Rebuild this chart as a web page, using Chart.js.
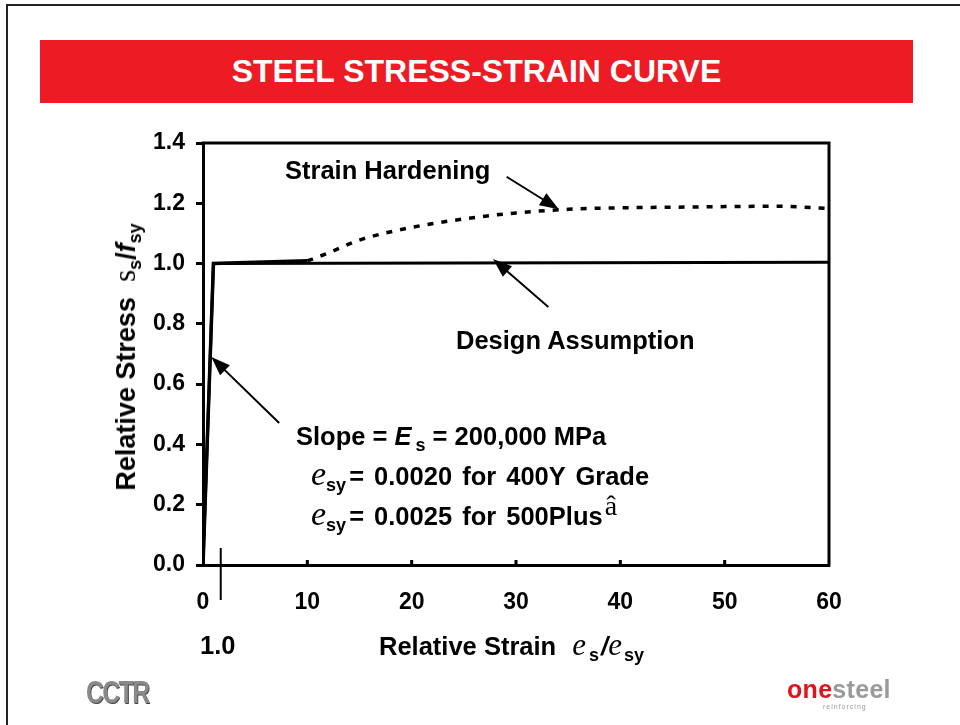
<!DOCTYPE html>
<html>
<head>
<meta charset="utf-8">
<script src="https://cdn.jsdelivr.net/npm/chart.js@4.4.0/dist/chart.umd.min.js"></script>
<style>
  html,body{margin:0;padding:0;background:#fff;}
  body{width:960px;height:725px;position:relative;overflow:hidden;font-family:"Liberation Sans",Arial,sans-serif;}
  #c{position:absolute;left:0;top:0;}
  .slide{position:absolute;left:6px;top:4px;width:960px;height:730px;border-left:2px solid #222;border-top:2px solid #222;box-sizing:border-box;}
  .titlebar{position:absolute;left:40px;top:40px;width:873px;height:63px;background:#ED1C24;color:#fff;font-weight:bold;font-size:32px;line-height:63px;text-align:center;}
  .t{position:absolute;white-space:nowrap;font-weight:bold;color:#000;font-size:25.5px;line-height:26px;}
  .ser{font-family:"Liberation Serif","Times New Roman",serif;font-style:italic;font-weight:normal;font-size:34px;}
  .sub{font-size:18px;position:relative;top:6px;}
  .ytitle{position:absolute;left:127px;top:357px;transform:translate(-50%,-50%) rotate(-90deg);white-space:nowrap;font-weight:bold;font-size:27px;line-height:30px;}
  .logo1{position:absolute;left:86px;top:675px;font-family:"Liberation Sans Narrow","Liberation Sans",sans-serif;font-weight:bold;font-size:31px;color:#8a8a8a;letter-spacing:-2px;text-shadow:1px 1px 0 #444;transform:scaleX(0.8);transform-origin:left top;}
  .logo2{position:absolute;left:787px;top:676px;font-family:"Liberation Sans",sans-serif;font-weight:bold;font-size:25px;line-height:26px;letter-spacing:0.3px;}
  .logo2 .a{color:#E0141E;}
  .logo2 .b{color:#9a9a9a;}
  .logo2 .r{position:absolute;left:36px;top:27px;font-size:7px;line-height:7px;color:#999;font-weight:normal;letter-spacing:1px;}
</style>
</head>
<body>
<div class="slide"></div>
<canvas id="c" width="960" height="725"></canvas>
<div class="titlebar">STEEL STRESS-STRAIN CURVE</div>

<div class="t" style="left:285px;top:157px;">Strain Hardening</div>
<div class="t" style="left:456px;top:327px;">Design Assumption</div>
<div class="t" style="left:296px;top:423px;">Slope = <i>E</i><span class="sub" style="margin-left:4px;">s</span> = 200,000 MPa</div>
<div class="t" style="left:311px;top:461px;word-spacing:3px;"><span class="ser">e</span><span class="sub">sy</span><span style="margin-left:3px;">= 0.0020 for 400Y Grade</span></div>
<div class="t" style="left:311px;top:501px;word-spacing:3px;"><span class="ser">e</span><span class="sub">sy</span><span style="margin-left:3px;">= 0.0025 for 500Plus</span><span style="font-family:'Liberation Serif',serif;font-weight:normal;font-size:28px;position:relative;top:-10px;margin-left:2px;">â</span></div>

<div class="ytitle">Relative Stress&nbsp; <span style="font-family:'Liberation Serif',serif;font-weight:normal;font-size:31px;">s</span><span class="sub">s</span>/<i>f</i><span class="sub">sy</span></div>
<div class="t" style="left:379px;top:632px;">Relative Strain&nbsp;&nbsp;<span class="ser" style="font-size:31px;margin-left:2px;">e</span><span class="sub" style="margin-left:3px;">s</span><i style="margin-left:2px;">/</i><span class="ser" style="font-size:31px;">e</span><span class="sub" style="margin-left:2px;">sy</span></div>
<div class="t" style="left:200px;top:632px;">1.0</div>

<div class="logo1">CCTR</div>
<div class="logo2"><span class="a">one</span><span class="b">steel</span><span class="r">reinforcing</span></div>

<script>
// ---- data ----
const strainTicks = [0, 10, 20, 30, 40, 50, 60];
const stressTicks = [0, 0.2, 0.4, 0.6, 0.8, 1.0, 1.2, 1.4];
const elasticStrain = [0, 1, 10];
const elasticStress = [0, 1.0, 1.009];
const hardeningStrain = [10, 12, 15, 20, 25, 30, 35, 40, 45, 50, 55, 60];
const hardeningStress = [1.009, 1.035, 1.078, 1.12, 1.148, 1.168, 1.18, 1.185, 1.187, 1.189, 1.19, 1.183];
const designStrain = [0, 1, 60];
const designStress = [0, 1.0, 1.004];
const markerStrain = [1.7];
// annotation arrows [tailStrain, tailStress, tipStrain, tipStress]
const hardeningArrow = [29.1, 1.288, 34.1, 1.18];
const designArrow = [33.1, 0.856, 27.8, 1.015];
const slopeArrow = [7.3, 0.471, 0.8, 0.69];

const pts = (xs, ys) => xs.map((v, i) => ({x: v, y: ys[i]}));

function drawArrow(ctx, x1, y1, x2, y2) {
  const a = Math.atan2(y2 - y1, x2 - x1);
  const L = 19, W = 7;
  const c = Math.cos(a), s = Math.sin(a);
  ctx.lineWidth = 2;
  ctx.beginPath();
  ctx.moveTo(x1, y1);
  ctx.lineTo(x2 - L * 0.8 * c, y2 - L * 0.8 * s);
  ctx.stroke();
  ctx.beginPath();
  ctx.moveTo(x2, y2);
  ctx.lineTo(x2 - L * c + W * s, y2 - L * s - W * c);
  ctx.lineTo(x2 - L * c - W * s, y2 - L * s + W * c);
  ctx.closePath();
  ctx.fill();
}

const framePlugin = {
  id: 'frame',
  afterDatasetsDraw(chart) {
    const {ctx, chartArea: ar, scales: {x, y}} = chart;
    ctx.save();
    ctx.strokeStyle = '#000';
    ctx.fillStyle = '#000';
    ctx.lineWidth = 3;
    ctx.lineCap = 'square';
    ctx.beginPath();
    ctx.moveTo(ar.left, ar.top);
    ctx.lineTo(ar.right, ar.top);
    ctx.lineTo(ar.right, ar.bottom);
    ctx.stroke();
    ctx.lineCap = 'butt';
    strainTicks.slice(1, -1).forEach(v => {
      const px = x.getPixelForValue(v);
      ctx.beginPath();
      ctx.moveTo(px, ar.bottom);
      ctx.lineTo(px, ar.bottom - 5);
      ctx.stroke();
    });
    ctx.lineWidth = 2;
    const mx = x.getPixelForValue(markerStrain[0]);
    ctx.beginPath();
    ctx.moveTo(mx, ar.bottom - 17);
    ctx.lineTo(mx, ar.bottom + 35);
    ctx.stroke();
    [hardeningArrow, designArrow, slopeArrow].forEach(a => {
      drawArrow(ctx, x.getPixelForValue(a[0]), y.getPixelForValue(a[1]),
                     x.getPixelForValue(a[2]), y.getPixelForValue(a[3]));
    });
    ctx.restore();
  }
};

new Chart(document.getElementById('c'), {
  type: 'line',
  data: {
    datasets: [
      {label: 'Design assumption', data: pts(designStrain, designStress), borderColor: '#000', borderWidth: 3, pointRadius: 0, tension: 0, fill: false},
      {label: 'Elastic / yield plateau', data: pts(elasticStrain, elasticStress), borderColor: '#000', borderWidth: 3.5, pointRadius: 0, tension: 0, fill: false},
      {label: 'Strain hardening', data: pts(hardeningStrain, hardeningStress), borderColor: '#000', borderWidth: 3.5, borderDash: [6, 8], pointRadius: 0, cubicInterpolationMode: 'monotone', fill: false}
    ]
  },
  options: {
    responsive: false,
    animation: false,
    devicePixelRatio: 1,
    layout: {padding: {left: 0, top: 143, right: 131, bottom: 0}},
    plugins: {legend: {display: false}, tooltip: {enabled: false}},
    scales: {
      x: {
        type: 'linear', min: strainTicks[0], max: strainTicks[strainTicks.length - 1],
        afterBuildTicks: s => { s.ticks = strainTicks.map(v => ({value: v})); },
        afterFit: s => { s.height = 160; },
        grid: {display: true, drawOnChartArea: false, drawTicks: true, tickLength: 0, color: 'rgba(0,0,0,0)'},
        border: {display: true, color: '#000', width: 3},
        ticks: {color: '#000', padding: 24, font: {family: 'Liberation Sans', size: 23, weight: 'bold'}, callback: v => String(v)}
      },
      y: {
        type: 'linear', min: stressTicks[0], max: stressTicks[stressTicks.length - 1],
        afterBuildTicks: s => { s.ticks = stressTicks.map(v => ({value: v})); },
        afterFit: s => { s.width = 203; },
        grid: {display: true, drawOnChartArea: false, drawTicks: true, tickLength: 7, tickWidth: 3, tickColor: '#000', color: '#000'},
        border: {display: true, color: '#000', width: 3},
        ticks: {color: '#000', padding: 11, font: {family: 'Liberation Sans', size: 23, weight: 'bold'}, callback: v => Number(v).toFixed(1)}
      }
    }
  },
  plugins: [framePlugin]
});
</script>
</body>
</html>
